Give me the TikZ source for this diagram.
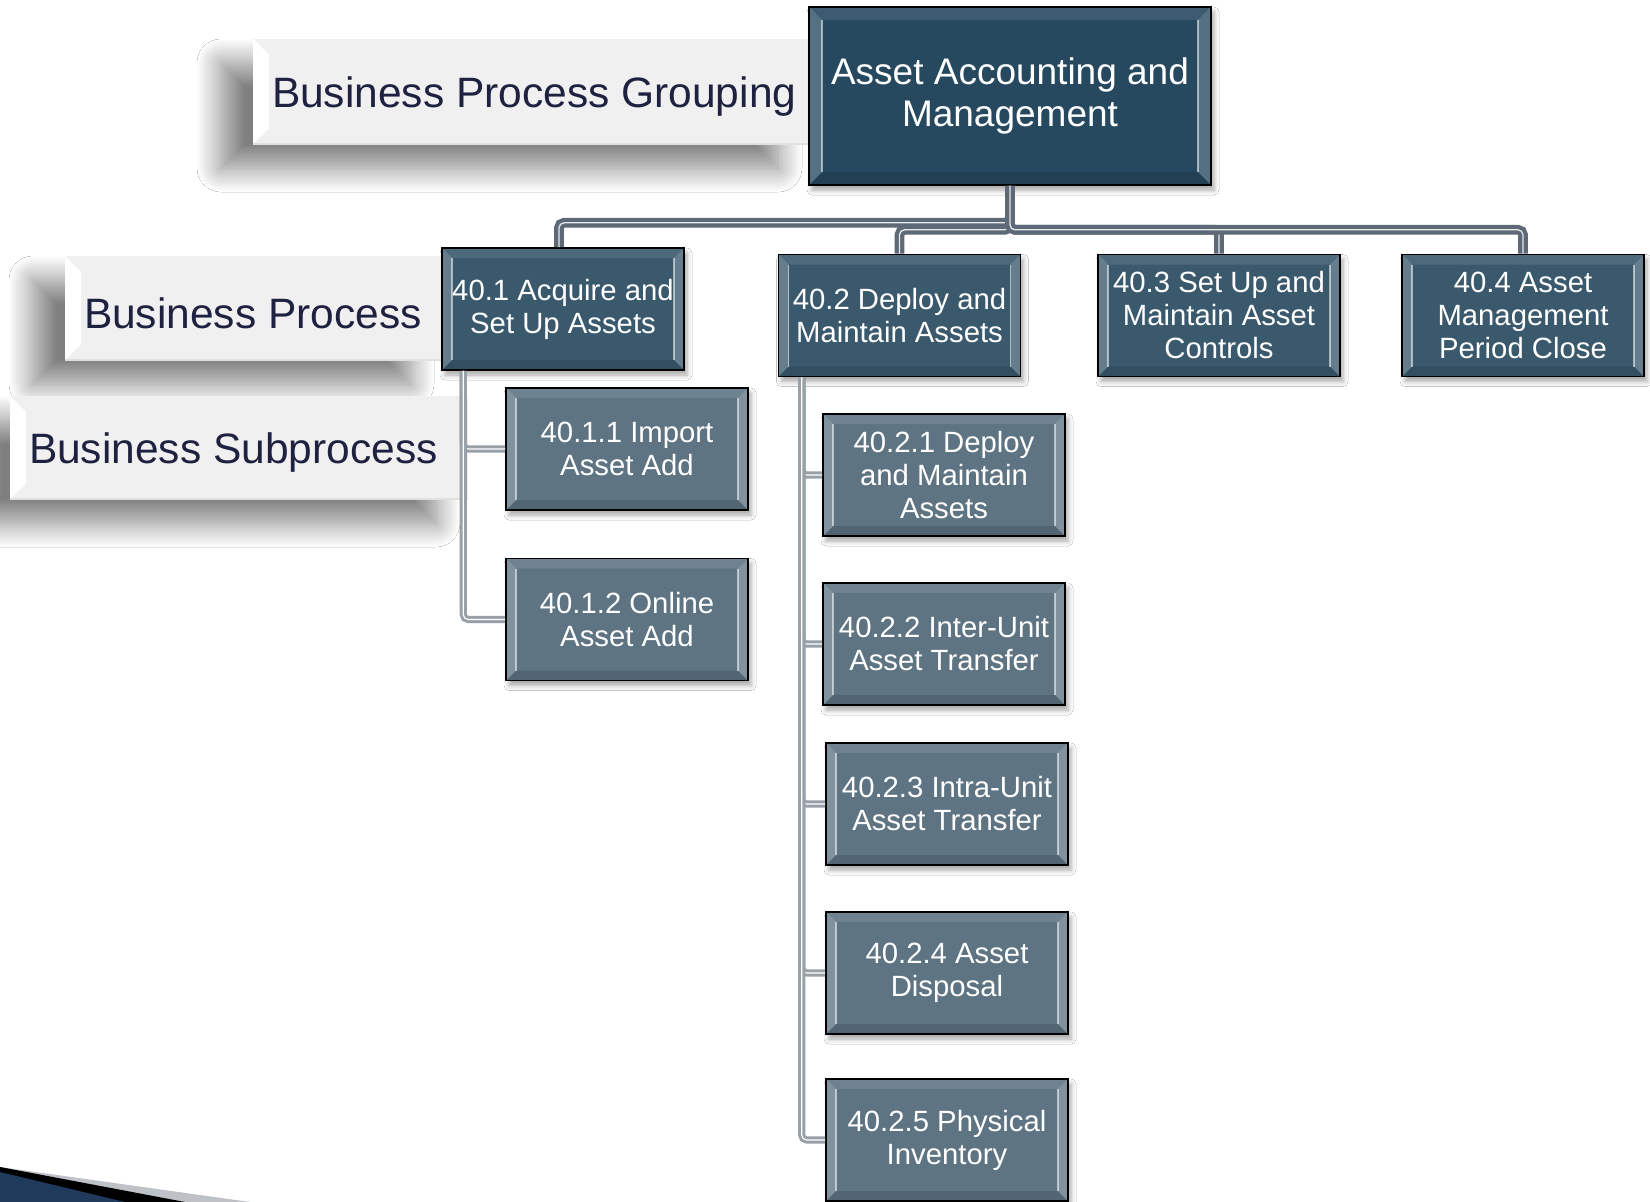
\documentclass[tikz,border=0pt]{standalone}
\usepackage{fontspec}
\setmainfont{Liberation Sans}
\usetikzlibrary{shadows.blur,calc}
\definecolor{topfill}{RGB}{38,73,96}
\definecolor{procfill}{RGB}{59,89,109}
\definecolor{subfill}{RGB}{94,116,131}
\definecolor{labelfill}{RGB}{240,240,240}
\definecolor{labeltext}{RGB}{30,33,64}
\definecolor{conndark}{RGB}{93,105,118}
\definecolor{connlight}{RGB}{152,160,168}
\definecolor{cornerblue}{RGB}{31,58,90}
\definecolor{cornergrey}{RGB}{190,194,198}
\newcommand{\lowertext}[1]{\raisebox{-5pt}[\height][\depth]{#1}}
\tikzset{
  bevel/.style={path picture={
    \path (path picture bounding box.north west) coordinate (bvNW)
          (path picture bounding box.north east) coordinate (bvNE)
          (path picture bounding box.south west) coordinate (bvSW)
          (path picture bounding box.south east) coordinate (bvSE);
    \fill[white,opacity=.10] (bvNW) -- (bvNE) -- ([shift={(-#1,-#1)}]bvNE) -- ([shift={(#1,-#1)}]bvNW) -- cycle;
    \fill[black,opacity=.12] (bvSW) -- (bvSE) -- ([shift={(-#1,#1)}]bvSE) -- ([shift={(#1,#1)}]bvSW) -- cycle;
    \fill[white,opacity=.22] (bvNW) -- ([shift={(#1,-#1)}]bvNW) -- ([shift={(#1,#1)}]bvSW) -- (bvSW) -- cycle;
    \fill[white,opacity=.22] (bvNE) -- ([shift={(-#1,-#1)}]bvNE) -- ([shift={(-#1,#1)}]bvSE) -- (bvSE) -- cycle;
    \draw[white,opacity=.55,line width=1.6pt] ([shift={(#1,-#1)}]bvNW) -- ([shift={(#1,#1)}]bvSW);
    \draw[white,opacity=.55,line width=1.6pt] ([shift={(-#1,-#1)}]bvNE) -- ([shift={(-#1,#1)}]bvSE);
  }},
  labelbevel/.style={path picture={
    \path (path picture bounding box.north west) coordinate (lbNW)
          (path picture bounding box.south west) coordinate (lbSW)
          (path picture bounding box.south east) coordinate (lbSE);
    \fill[white] (lbNW) -- ([shift={(16pt,-16pt)}]lbNW) -- ([shift={(16pt,16pt)}]lbSW) -- (lbSW) -- cycle;
    \draw[black!12,line width=1.5pt] (lbSW) -- (lbSE);
  }},
  darkbox/.style={draw=black, line width=1.6pt, inner sep=0pt,
    minimum width=242pt, minimum height=122pt, align=center, text=white,
    font=\fontsize{29.3}{33}\selectfont,
    blur shadow={shadow xshift=3pt, shadow yshift=-5pt, shadow blur radius=5pt, shadow opacity=35}},
  topbox/.style={darkbox, fill=topfill, minimum width=402pt, minimum height=178pt,
    font=\fontsize{37}{42}\selectfont, bevel=13pt},
  procbox/.style={darkbox, fill=procfill, bevel=10pt},
  subbox/.style={darkbox, fill=subfill, bevel=10pt},
  labelbox/.style={fill=labelfill, inner ysep=0pt, inner xsep=19pt, align=flush left,
    text=labeltext, font=\fontsize{42.5}{48}\selectfont, labelbevel,
    blur shadow={shadow xshift=-32pt, shadow yshift=-24pt, shadow blur radius=24pt,
      shadow blur steps=24, shadow opacity=50}},
  conntop/.style={draw=conndark, line width=4.2pt, double=white!85!conndark,
    double distance=1.3pt, rounded corners=5pt},
  connsub/.style={draw=connlight, line width=3pt, double=white,
    double distance=1.1pt, rounded corners=5pt}
}
\begin{document}
\begin{tikzpicture}[x=1pt,y=-1pt]
\useasboundingbox[fill=white] (0,0) rectangle (1650,1202);

% row labels
\node[labelbox, text width=519pt, minimum height=105pt] (lgroup) at (531.5,91.5) {\lowertext{\mbox{Business Process Grouping}}};
\node[labelbox, text width=339pt, minimum height=104pt] (lproc) at (253.5,308) {\lowertext{\mbox{Business Process}}};
\node[labelbox, text width=420pt, minimum height=103pt] (lsub) at (239,447.5) {\lowertext{\mbox{Business Subprocess}}};

% corner decoration
\fill[cornergrey] (0,1167) -- (250,1202) -- (0,1202) -- cycle;
\fill[black] (0,1167) -- (185,1202) -- (0,1202) -- cycle;
\fill[cornerblue] (0,1172) -- (125,1202) -- (0,1202) -- cycle;

% boxes
\path
  (1010,96) node[topbox] (top) {Asset Accounting and\\Management}
  (563,309) node[procbox] (p1) {40.1 Acquire and\\Set Up Assets}
  (899.5,315.5) node[procbox] (p2) {40.2 Deploy and\\Maintain Assets}
  (1219,315.5) node[procbox] (p3) {40.3 Set Up and\\Maintain Asset\\Controls}
  (1523,315.5) node[procbox] (p4) {40.4 Asset\\Management\\Period Close}
  (627,449) node[subbox] (s11) {40.1.1 Import\\Asset Add}
  (627,619.5) node[subbox] (s12) {40.1.2 Online\\Asset Add}
  (944,475) node[subbox] (s21) {40.2.1 Deploy\\and Maintain\\Assets}
  (944,644) node[subbox] (s22) {40.2.2 Inter-Unit\\Asset Transfer}
  (947,804) node[subbox] (s23) {40.2.3 Intra-Unit\\Asset Transfer}
  (947,973) node[subbox] (s24) {40.2.4 Asset\\Disposal}
  (947,1140) node[subbox] (s25) {40.2.5 Physical\\Inventory};

% connectors
\draw[conntop] (top.south) -- ++(0,37) -| ([xshift=-4pt]p1.north);
\draw[conntop] (top.south) -- ++(0,44) -| (p2.north);
\draw[conntop] (top.south) -- ++(0,44) -| (p3.north);
\draw[conntop] (top.south) -- ++(0,44) -| (p4.north);
\draw[connsub] ([xshift=22pt]p1.south west) |- (s11.west);
\draw[connsub] ([xshift=22pt]p1.south west) |- (s12.west);
\draw[connsub] ([xshift=24pt]p2.south west) |- (s21.west);
\draw[connsub] ([xshift=24pt]p2.south west) |- (s22.west);
\draw[connsub] ([xshift=24pt]p2.south west) |- (s23.west);
\draw[connsub] ([xshift=24pt]p2.south west) |- (s24.west);
\draw[connsub] ([xshift=24pt]p2.south west) |- (s25.west);
\end{tikzpicture}
\end{document}
